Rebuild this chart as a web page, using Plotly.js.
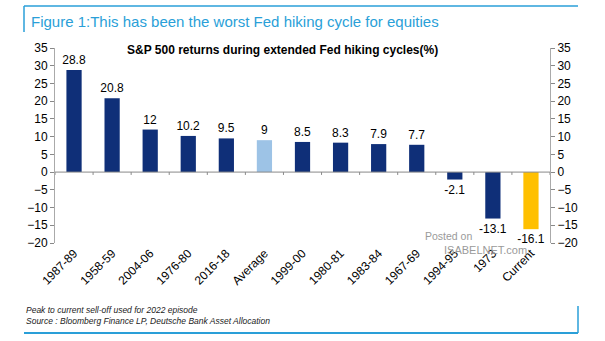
<!DOCTYPE html>
<html><head><meta charset="utf-8">
<script src="https://cdn.plot.ly/plotly-3.0.1.min.js"></script>
<style>html,body{margin:0;padding:0;background:#fff}#c{width:605px;height:341px}</style>
</head><body><div id="c"></div>
<script>
const categories = ["1987-89","1958-59","2004-06","1976-80","2016-18","Average","1999-00","1980-81","1983-84","1967-69","1994-95","1973","Current"];
const returns = [28.8,20.8,12,10.2,9.5,9,8.5,8.3,7.9,7.7,-2.1,-13.1,-16.1];
const barLabels = ["28.8","20.8","12","10.2","9.5","9","8.5","8.3","7.9","7.7","-2.1","-13.1","-16.1"];
const yTicks = [35,30,25,20,15,10,5,0,-5,-10,-15,-20];

const navy = "#0f2f78", avg = "#9dc3e6", cur = "#ffc000";
const colors = categories.map(c => c === "Average" ? avg : (c === "Current" ? cur : navy));

const trace = {
  type: "bar", x: categories, y: returns, width: 0.4,
  marker: {color: colors, line: {width: 0}},
  text: barLabels, textposition: "outside", cliponaxis: false, constraintext: "none",
  textfont: {family: "Liberation Sans, Arial", size: 12, color: "#000"},
  hoverinfo: "none"
};
const trace2 = {type: "bar", x: categories, y: returns.map(()=>null), yaxis: "y2", showlegend: false, hoverinfo: "none"};

const blue = "#2a9fd8";
const H = 195, W = 495;
function py(pix){ return (243 - pix) / H; }
function px(pix){ return (pix - 55) / W; }
const shapes = [
  {type:"line", xref:"paper", yref:"paper", x0:px(24), x1:px(578), y0:py(6), y1:py(6), line:{color:blue, width:1.5}},
  {type:"line", xref:"paper", yref:"paper", x0:px(24), x1:px(24), y0:py(6), y1:py(32), line:{color:blue, width:1.5}},
  {type:"line", xref:"paper", yref:"paper", x0:px(24), x1:px(578), y0:py(333), y1:py(333), line:{color:blue, width:2}},
  {type:"line", xref:"paper", yref:"paper", x0:px(578), x1:px(578), y0:py(333), y1:py(306), line:{color:blue, width:1.5}},
  {type:"line", xref:"paper", yref:"y", x0:0, x1:1, y0:0, y1:0, line:{color:"#888", width:1}}
];
for (let i = 0; i <= categories.length; i++) {
  shapes.push({type:"line", xref:"x", yref:"y", x0:i-0.5, x1:i-0.5, y0:0, y1:-0.8, line:{color:"#888", width:1}});
}

const layout = {
  width: 605, height: 341,
  margin: {l:55, r:55, t:48, b:98},
  paper_bgcolor: "#fff", plot_bgcolor: "#fff",
  showlegend: false, bargap: 0.6,
  font: {family: "Liberation Sans, Arial", size: 12, color: "#000"},
  xaxis: {type:"category", tickangle:-45, ticks:"", showline:false, showgrid:false, zeroline:false,
          tickfont:{size:12}, range:[-0.5, categories.length-0.5], fixedrange:true},
  yaxis: {range:[-20,35], tickvals:yTicks, ticks:"outside", ticklen:4, tickcolor:"#888",
          showline:true, linecolor:"#aaa", showgrid:false, zeroline:false, tickfont:{size:12}},
  yaxis2: {range:[-20,35], tickvals:yTicks, overlaying:"y", side:"right", ticks:"outside", ticklen:4, tickcolor:"#888",
          showline:true, linecolor:"#aaa", showgrid:false, zeroline:false, tickfont:{size:12}},
  shapes: shapes,
  annotations: [
    {text:"Figure 1:This has been the worst Fed hiking cycle for equities", xref:"paper", yref:"paper",
     x:px(29), y:py(21), xanchor:"left", yanchor:"middle", showarrow:false, font:{size:15, color:blue}},
    {text:"<b>S&P 500 returns during extended Fed hiking cycles(%)</b>", xref:"paper", yref:"paper",
     x:px(282), y:py(50), xanchor:"center", yanchor:"middle", showarrow:false, font:{size:12, color:"#000"}},
    {text:"<i>Peak to current sell-off used for 2022 episode</i>", xref:"paper", yref:"paper",
     x:px(24), y:py(310), xanchor:"left", yanchor:"middle", showarrow:false, font:{size:8.5, color:"#222"}},
    {text:"<i>Source : Bloomberg Finance LP, Deutsche Bank Asset Allocation</i>", xref:"paper", yref:"paper",
     x:px(24), y:py(321), xanchor:"left", yanchor:"middle", showarrow:false, font:{size:8.5, color:"#222"}},
    {text:"Posted on", xref:"paper", yref:"paper", x:px(423), y:py(236), xanchor:"left", yanchor:"middle",
     showarrow:false, font:{size:10.5, color:"#9a9a9a"}},
    {text:"ISABELNET.com", xref:"paper", yref:"paper", x:px(442), y:py(250), xanchor:"left", yanchor:"middle",
     showarrow:false, font:{size:11, color:"#9a9a9a"}}
  ]
};
Plotly.newPlot("c", [trace, trace2], layout, {displayModeBar:false, staticPlot:true});
</script></body></html>
